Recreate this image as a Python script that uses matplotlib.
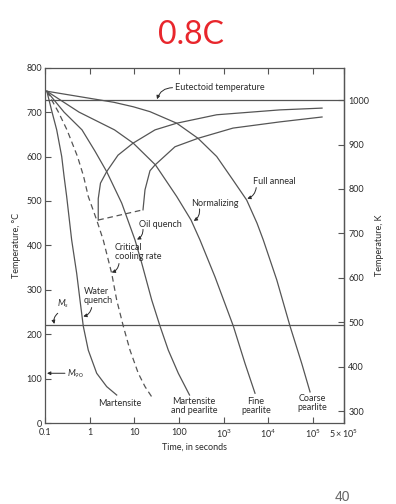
import matplotlib
matplotlib.use('Agg')
import matplotlib.pyplot as plt
from matplotlib.ticker import NullLocator

plt.rcParams['font.family'] = ['Lato', 'DejaVu Sans']
plt.rcParams['mathtext.fontset'] = 'custom'
plt.rcParams['mathtext.rm'] = 'Lato'
plt.rcParams['mathtext.it'] = 'Lato:italic'
plt.rcParams['mathtext.bf'] = 'Lato:bold'

# cooling curves, time in s / temperature in deg C
water_t = [0.11, 0.144, 0.183, 0.237, 0.267, 0.306, 0.396, 0.513, 0.608, 0.721, 0.933, 1.44, 2.41, 4.04]
water_T = [747, 700, 660, 600, 556, 510, 412, 337, 277, 218, 164, 112, 82, 63]

critical_t = [0.11, 0.200, 0.311, 0.535, 0.73, 0.933, 1.44, 2.02, 3.12, 4.04, 5.68, 8.03, 12.3, 17.4, 24.6]
critical_T = [747, 700, 660, 600, 556, 510, 457, 412, 337, 277, 218, 164, 112, 82, 59]

oil_t = [0.11, 0.267, 0.675, 1.32, 2.41, 5.24, 10.4, 14.7, 24.6, 37.8, 57.9, 97.0, 173]
oil_T = [747, 700, 660, 612, 566, 495, 412, 360, 277, 218, 164, 112, 63]

norm_t = [0.11, 0.578, 3.61, 9.51, 29.9, 89.3, 187, 297, 644, 1660, 3030, 5070]
norm_T = [747, 700, 660, 630, 581, 510, 457, 412, 329, 218, 134, 67]

anneal_t = [0.11, 1.77, 3.52, 9.51, 22.5, 89.3, 268, 703, 1630, 3300, 5620, 7780, 15600, 30900, 56500, 86700]
anneal_T = [747, 727, 722, 712, 701, 675, 641, 600, 547, 502, 450, 412, 322, 218, 134, 70]

# transformation start / finish curves
start_t = [1.56, 1.56, 1.75, 2.41, 4.32, 9.37, 29.2, 89.3, 703, 18400, 161000]
start_T = [457, 505, 540, 566, 603, 630, 660, 675, 694, 705, 709]

finish_t = [15.7, 17.4, 22.5, 29.2, 81.8, 268, 1630, 18400, 161000]
finish_T = [480, 525, 568, 581, 622, 641, 664, 678, 689]

end_t = [1.56, 15.7]
end_T = [457, 480]

eutectoid_T = 727
ms_T = 220
m90_T = 112

x_ticks = [0.1, 1, 10, 100, 1e3, 1e4, 1e5, 5e5]
x_labels = ['0.1', '1', '10', '100', r'$10^3$', r'$10^4$', r'$10^5$', r'$5\times10^5$']
c_ticks = list(range(0, 801, 100))
k_ticks = list(range(300, 1001, 100))

LINE = '#555555'
TEXT = '#2b2b2b'
FS = 6.5

fig = plt.figure(figsize=(3.96, 5.04), dpi=100)
ax = fig.add_axes([0.1136, 0.1607, 0.7551, 0.7050])

lw = 0.9
ax.plot(water_t, water_T, color=LINE, lw=lw)
ax.plot(critical_t, critical_T, color=LINE, lw=lw, dashes=(4.5, 3))
ax.plot(oil_t, oil_T, color=LINE, lw=lw)
ax.plot(norm_t, norm_T, color=LINE, lw=lw)
ax.plot(anneal_t, anneal_T, color=LINE, lw=lw)
ax.plot(start_t, start_T, color=LINE, lw=lw)
ax.plot(finish_t, finish_T, color=LINE, lw=lw)
ax.plot(end_t, end_T, color=LINE, lw=lw, dashes=(4.5, 3))
ax.axhline(eutectoid_T, color=LINE, lw=lw)
ax.axhline(ms_T, color=LINE, lw=lw)

ax.set_xscale('log')
ax.set_xlim(0.1, 5e5)
ax.set_ylim(0, 800)
ax.set_xticks(x_ticks, x_labels)
ax.xaxis.set_minor_locator(NullLocator())
ax.set_yticks(c_ticks)
ax.tick_params(direction='in', length=4, width=0.8, color=LINE, labelsize=FS,
               labelcolor=TEXT, top=True)
ax.tick_params(axis='x', pad=3.5)
ax.tick_params(axis='y', pad=2)
for s in ax.spines.values():
    s.set_color(LINE)
    s.set_linewidth(0.9)

sec = ax.secondary_yaxis('right', functions=(lambda c: c + 273, lambda k: k - 273))
sec.set_yticks(k_ticks)
sec.tick_params(direction='in', length=4, width=0.8, color=LINE, labelsize=FS,
                labelcolor=TEXT, pad=3)
sec.spines['right'].set_color(LINE)
sec.spines['right'].set_linewidth(0.9)
sec.set_ylabel('Temperature, K', fontsize=FS, color=TEXT, labelpad=4)

ax.set_xlabel('Time, in seconds', fontsize=FS, color=TEXT, labelpad=2)
ax.set_ylabel('Temperature, °C', fontsize=FS, color=TEXT, labelpad=4)

aprops = dict(arrowstyle='-|>', mutation_scale=5, lw=0.7, color=TEXT, shrinkA=0, shrinkB=0)


def label(text, pos, ha='left', **kw):
    ax.text(pos[0], pos[1], text, fontsize=FS, color=TEXT, ha=ha, va='center',
            linespacing=1.0, **kw)


def arrow(tail, tip, rad=0.3):
    ax.annotate('', xy=tip, xytext=tail,
                arrowprops=dict(aprops, connectionstyle=f'arc3,rad={rad}'))


label('Eutectoid temperature', (81.8, 756))
arrow((72, 755), (32.4, 729), rad=0.35)

label('Full anneal', (4580, 543))
arrow((5400, 530), (3400, 505), rad=-0.3)

label('Normalizing', (187, 495))
arrow((290, 482), (215, 455), rad=-0.3)

label('Oil quench', (12.8, 448))
arrow((15.7, 436), (11.5, 413), rad=-0.3)

label('Critical\ncooling rate', (3.70, 385))
arrow((4.55, 359), (3.12, 339), rad=-0.3)

label('Water\nquench', (0.748, 287))
arrow((1.11, 260), (0.72, 240), rad=-0.3)

label(r'$M_s$', (0.25, 268), ha='center')
arrow((0.193, 247), (0.162, 223), rad=0.3)

label(r'$M_{90}$', (0.31, m90_T))
arrow((0.28, m90_T), (0.111, m90_T), rad=0.0)

label('Martensite', (4.79, 45), ha='center')
label('Martensite\nand pearlite', (218, 38), ha='center')
label('Fine\npearlite', (5350, 38), ha='center')
label('Coarse\npearlite', (98600, 45), ha='center')

# handwritten note above the chart
fig.text(0.482, 0.931, '0.8C', color='#e8262c', fontsize=23, family='Lato',
         ha='center', va='center')
fig.text(0.865, 0.014, '40', color='#666666', fontsize=10, ha='center', va='center',
         family='Liberation Sans')

fig.savefig('out.png', dpi=100)
